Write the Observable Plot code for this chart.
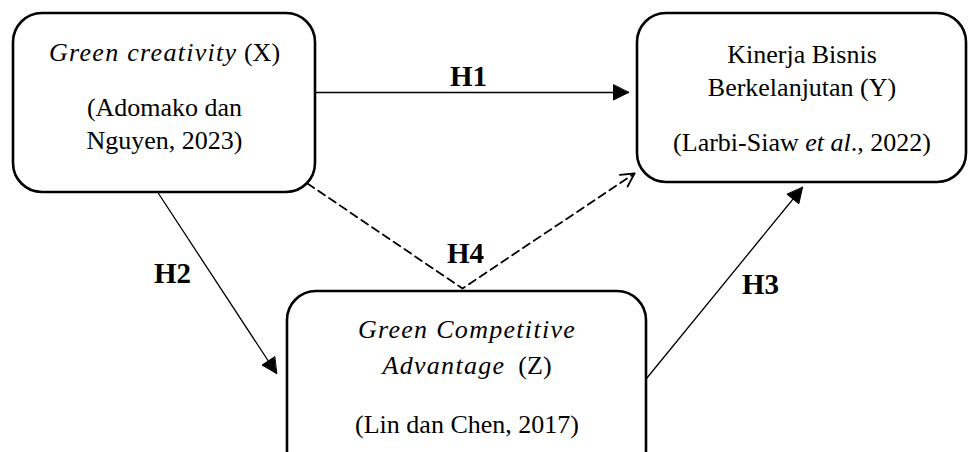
<!DOCTYPE html>
<html>
<head>
<meta charset="utf-8">
<script src="https://cdn.jsdelivr.net/npm/d3@7"></script>
<script src="https://cdn.jsdelivr.net/npm/@observablehq/plot@0.6"></script>
<style>
  html, body { margin: 0; padding: 0; background: #ffffff; }
  #chart svg { display: block; }
  #chart svg text { font-family: "Liberation Serif", serif; }
  #chart svg g[font-style="italic"][font-weight="normal"] text { letter-spacing: 1.3px; }
</style>
</head>
<body>
<div id="chart"></div>
<script>
// ---- Data (diagram coordinates, 968 x 452 space, y downward) ----
const nodeIds = ["X", "Y", "Z"];
const nodeLeft = [13, 637, 287];
const nodeRight = [315, 966, 646];
const nodeTop = [13, 13, 291];
const nodeBottom = [192, 182, 480];

// text lines: [node, baseline y, segments [text, style]]  style: r = roman, i = italic, w = wide italic
const nodeLines = [
  ["X", 60, [["Green creativity", "w"], [" ", "r"], ["(X)", "r"]]],
  ["X", 115, [["(Adomako dan", "r"]]],
  ["X", 148, [["Nguyen, 2023)", "r"]]],
  ["Y", 62, [["Kinerja Bisnis", "r"]]],
  ["Y", 95, [["Berkelanjutan (Y)", "r"]]],
  ["Y", 150, [["(Larbi-Siaw", "r"], [" ", "r"], ["et al", "i"], ["., 2022)", "r"]]],
  ["Z", 337, [["Green Competitive", "w"]]],
  ["Z", 373, [["Advantage", "w"], [" ", "r"], [" ", "r"], ["(Z)", "r"]]],
  ["Z", 432, [["(Lin dan Chen, 2017)", "r"]]]
];

// hypothesis paths
const edgeIds = ["H1", "H2", "H3", "H4"];
const edgePoints = [
  [[315, 92], [628, 92]],
  [[158, 193], [276, 373]],
  [[646, 378], [802, 187]],
  [[307, 183], [462, 288], [634, 173]]
];
const edgeDashed = [false, false, false, true];

const hypLabels = ["H1", "H2", "H3", "H4"];
const hypLabelX = [468, 172, 760, 465];
const hypLabelY = [85, 282, 293, 262];

// ---- Build tables ----
const FONT_SIZE = 26;
const FONT_FAMILY = "Liberation Serif";
const WIDE_SPACING = 1.3;
const canvas = document.createElement("canvas");
const ctx = canvas.getContext("2d");
function measure(t, style) {
  ctx.font = `${style !== "r" ? "italic " : ""}${FONT_SIZE}px "${FONT_FAMILY}"`;
  return ctx.measureText(t).width + (style === "w" ? t.length * WIDE_SPACING : 0);
}

const nodes = nodeIds.map((id, i) => ({
  id, x1: nodeLeft[i], x2: nodeRight[i], y1: nodeTop[i], y2: nodeBottom[i]
}));

const segments = [];
for (const [id, y, segs] of nodeLines) {
  const n = nodes[nodeIds.indexOf(id)];
  const cx = (n.x1 + n.x2) / 2;
  const widths = segs.map(([t, s]) => measure(t, s));
  const total = d3.sum(widths);
  let x = cx - total / 2;
  segs.forEach(([t, s], k) => {
    if (t.trim() !== "") segments.push({ text: t, style: s, x, y });
    x += widths[k];
  });
}

const edgeLines = [];
edgeIds.forEach((id, i) => {
  edgePoints[i].forEach(([x, y], k) => edgeLines.push({ id, x, y, k, dashed: edgeDashed[i] }));
});

// arrowheads derived from the final segment of each edge
const heads = [];
const openHeads = [];
edgeIds.forEach((id, i) => {
  const pts = edgePoints[i];
  const [x0, y0] = pts[pts.length - 2];
  const [x1, y1] = pts[pts.length - 1];
  const L = Math.hypot(x1 - x0, y1 - y0);
  const ux = (x1 - x0) / L, uy = (y1 - y0) / L;
  const nx = -uy, ny = ux;
  if (edgeDashed[i]) {
    const len = 13, hw = 7;
    const bx = x1 - ux * len, by = y1 - uy * len;
    openHeads.push({ id, x: bx + nx * hw, y: by + ny * hw });
    openHeads.push({ id, x: x1, y: y1 });
    openHeads.push({ id, x: bx - nx * hw, y: by - ny * hw });
  } else {
    const len = 15, hw = 7.5;
    const bx = x1 - ux * len, by = y1 - uy * len;
    heads.push({ id, x: x1, y: y1 });
    heads.push({ id, x: bx + nx * hw, y: by + ny * hw });
    heads.push({ id, x: bx - nx * hw, y: by - ny * hw });
  }
});

const labels = hypLabels.map((t, i) => ({ text: t, x: hypLabelX[i], y: hypLabelY[i] }));

// ---- Plot ----
const textBase = {
  x: "x", y: "y", text: "text", textAnchor: "start", lineAnchor: "bottom",
  fontSize: FONT_SIZE, fontFamily: FONT_FAMILY, fill: "#000"
};
const chart = Plot.plot({
  width: 968,
  height: 452,
  margin: 0,
  x: { domain: [0, 968], axis: null },
  y: { domain: [0, 452], reverse: true, axis: null },
  style: { background: "#ffffff" },
  marks: [
    Plot.line(edgeLines.filter(d => !d.dashed), {
      x: "x", y: "y", z: "id", stroke: "#000", strokeWidth: 1.3
    }),
    Plot.line(edgeLines.filter(d => d.dashed), {
      x: "x", y: "y", z: "id", stroke: "#000", strokeWidth: 1.8, strokeDasharray: "8,5"
    }),
    Plot.line(heads, {
      x: "x", y: "y", z: "id", curve: "linear-closed", fill: "#000", stroke: "#000", strokeWidth: 1
    }),
    Plot.line(openHeads, {
      x: "x", y: "y", z: "id", stroke: "#000", strokeWidth: 1.8
    }),
    Plot.rect(nodes, {
      x1: "x1", x2: "x2", y1: "y1", y2: "y2", rx: 29, ry: 29,
      fill: "#fff", stroke: "#000", strokeWidth: 2.6
    }),
    Plot.text(segments.filter(d => d.style === "r"), textBase),
    Plot.text(segments.filter(d => d.style === "i"), { ...textBase, fontStyle: "italic" }),
    Plot.text(segments.filter(d => d.style === "w"), { ...textBase, fontStyle: "italic", fontWeight: "normal" }),
    Plot.text(labels, {
      x: "x", y: "y", text: "text", textAnchor: "middle", lineAnchor: "bottom",
      fontSize: 29, fontFamily: FONT_FAMILY, fontWeight: "bold", fill: "#000"
    })
  ]
});
document.getElementById("chart").appendChild(chart);
</script>
</body>
</html>
